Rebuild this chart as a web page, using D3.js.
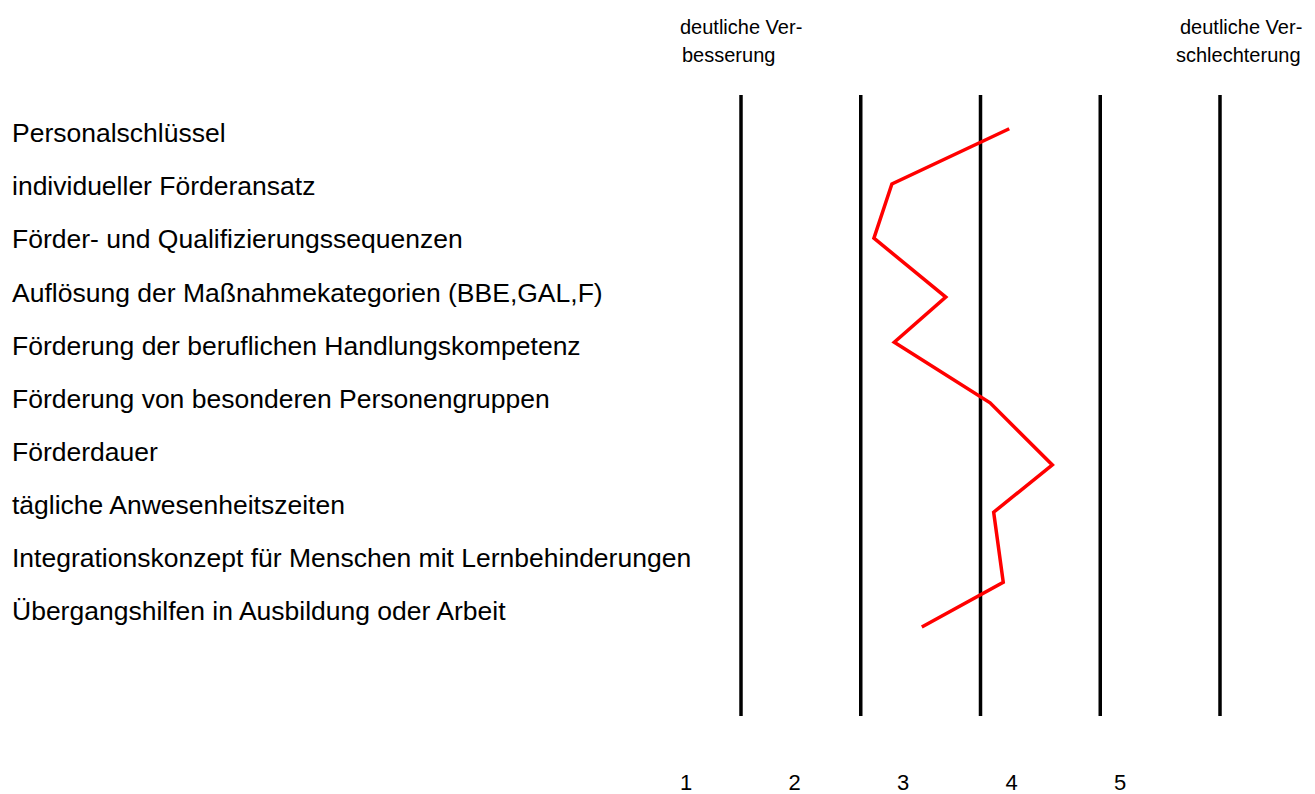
<!DOCTYPE html>
<html>
<head>
<meta charset="utf-8">
<script src="https://cdn.jsdelivr.net/npm/d3@7"></script>
<style>
  body { margin:0; background:#fff; }
  text { font-family: "Liberation Sans", Arial, sans-serif; fill:#000; }
</style>
</head>
<body>
<div id="plot"></div>
<script>
var width = 1315, height = 794;

// categories (top to bottom)
var categories = [
    'Personalschlüssel',
    'individueller Förderansatz',
    'Förder- und Qualifizierungssequenzen',
    'Auflösung der Maßnahmekategorien (BBE,GAL,F)',
    'Förderung der beruflichen Handlungskompetenz',
    'Förderung von besonderen Personengruppen',
    'Förderdauer',
    'tägliche Anwesenheitszeiten',
    'Integrationskonzept für Menschen mit Lernbehinderungen',
    'Übergangshilfen in Ausbildung oder Arbeit'
];

// rating per category (1 = deutliche Verbesserung ... 5 = deutliche Verschlechterung)
var ratings = [3.24, 2.26, 2.11, 2.71, 2.28, 3.08, 3.60, 3.11, 3.19, 2.51];
// vertical position of each point, in row units
var rowPos = [-0.08, 0.96, 1.98, 3.09, 3.94, 5.08, 6.25, 7.14, 8.46, 9.30];

var scaleSteps = [1, 2, 3, 4, 5];
var scaleLabels = ['1', '2', '3', '4', '5'];
var endLabels = [['deutliche Ver-', 'besserung'], ['deutliche Ver-', 'schlechterung']];

var svg = d3.select('#plot')
    .append('svg')
    .attr('width', width)
    .attr('height', height);

var x = d3.scaleLinear().domain([1, 5]).range([741, 1220]);
var y = d3.scaleLinear().domain([0, 9]).range([133, 611]);
// bottom number row is spaced on its own
var xLab = d3.scaleLinear().domain([1, 5]).range([686, 1120]);

// vertical lines
svg.selectAll('line.grid')
    .data(scaleSteps)
    .enter()
    .append('line')
    .attr('class', 'grid')
    .attr('x1', function(d){ return x(d); })
    .attr('x2', function(d){ return x(d); })
    .attr('y1', 95)
    .attr('y2', 716)
    .style('stroke', '#000')
    .style('stroke-width', 3.5);

// category labels
svg.selectAll('text.cat')
    .data(categories)
    .enter()
    .append('text')
    .attr('class', 'cat')
    .attr('x', 12)
    .attr('y', function(d, i){ return y(i); })
    .attr('dy', '0.35em')
    .style('font-size', '26.5px')
    .text(function(d){ return d; });

// red profile line
var line = d3.line()
    .x(function(d){ return x(d.v); })
    .y(function(d){ return y(d.r); });

var pts = ratings.map(function(v, i){ return {v:v, r:rowPos[i]}; });

svg.append('path')
    .datum(pts)
    .attr('d', line)
    .style('fill', 'none')
    .style('stroke', '#ff0000')
    .style('stroke-width', 3.5)
    .style('stroke-linejoin', 'miter');

// bottom numbers
svg.selectAll('text.num')
    .data(scaleLabels)
    .enter()
    .append('text')
    .attr('class', 'num')
    .attr('x', function(d, i){ return xLab(scaleSteps[i]); })
    .attr('y', 790)
    .attr('text-anchor', 'middle')
    .style('font-size', '22px')
    .text(function(d){ return d; });

// header labels
var hdrX = [680, 1180];
endLabels.forEach(function(lines, k){
    var t = svg.append('text')
        .attr('x', hdrX[k])
        .attr('y', 34)
        .style('font-size', '20px');
    lines.forEach(function(s, j){
        t.append('tspan')
            .attr('x', hdrX[k] + (j == 1 ? (k == 0 ? 2 : -4) : 0))
            .attr('dy', j == 0 ? 0 : 28)
            .text(s);
    });
});
</script>
</body>
</html>
